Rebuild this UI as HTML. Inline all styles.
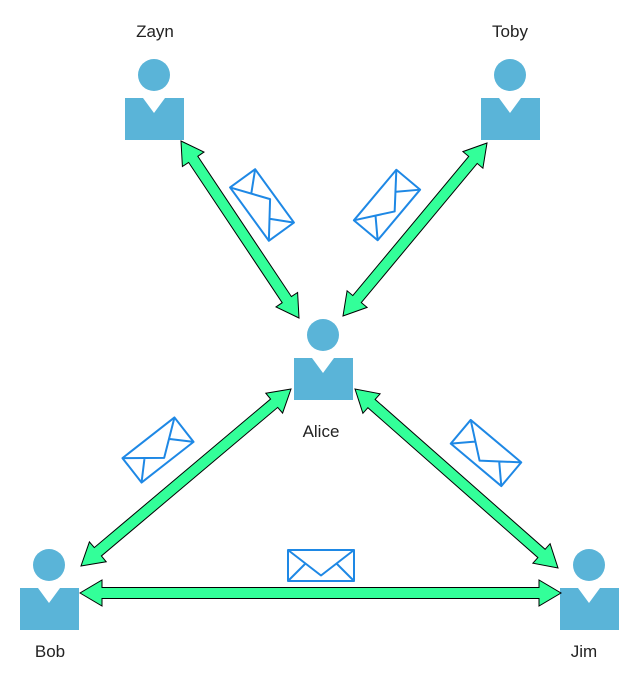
<!DOCTYPE html>
<html><head><style>
body{margin:0;background:#fff;}
svg{display:block;}
text{font-family:"Liberation Sans",sans-serif;font-size:17px;fill:#222;text-anchor:middle;}
</style></head><body>
<svg id="s" width="641" height="681" viewBox="0 0 641 681" xmlns="http://www.w3.org/2000/svg">
<defs>
<g id="p">
<circle cx="29" cy="-23" r="16" fill="#5AB4D8"/>
<path d="M0 0H18L29 15L40 0H59V42H0Z" fill="#5AB4D8"/>
</g>
<g id="e" fill="#fff" stroke="#1E88E5" stroke-width="2" stroke-linejoin="round">
<rect x="-33" y="-15.5" width="66" height="31"/>
<path d="M-33 -15.5L0 10L33 -15.5M-33 15.5L-16 -1.5M33 15.5L16 -1.5" fill="none"/>
</g>
</defs>
<use href="#p" x="125" y="98"/>
<use href="#p" x="481" y="98"/>
<use href="#p" x="294" y="358"/>
<use href="#p" x="20" y="588"/>
<use href="#p" x="560" y="588"/>
<text x="155" y="37">Zayn</text>
<text x="510" y="37">Toby</text>
<text x="321" y="437">Alice</text>
<text x="50" y="657">Bob</text>
<text x="584" y="657">Jim</text>
<g id="arrows"></g>
<use href="#e" transform="translate(262,205) rotate(-126)"/>
<use href="#e" transform="translate(387,205) rotate(-50)"/>
<use href="#e" transform="translate(158,450) rotate(-38)"/>
<use href="#e" transform="translate(486,453) rotate(40)"/>
<use href="#e" transform="translate(321,565.5)"/>
</svg>
<script>
function arr(x1,y1,x2,y2){
 var dx=x2-x1,dy=y2-y1,L=Math.hypot(dx,dy),ux=dx/L,uy=dy/L,nx=-uy,ny=ux;
 var w=5.5,hw=13,hl=22;
 function P(a,b){return (x1+ux*a+nx*b).toFixed(1)+','+(y1+uy*a+ny*b).toFixed(1);}
 var pts=[P(0,0),P(hl,hw),P(hl,w),P(L-hl,w),P(L-hl,hw),P(L,0),P(L-hl,-hw),P(L-hl,-w),P(hl,-w),P(hl,-hw)];
 var g=document.getElementById('arrows');
 var p=document.createElementNS('http://www.w3.org/2000/svg','polygon');
 p.setAttribute('points',pts.join(' '));p.setAttribute('fill','#33FF99');p.setAttribute('stroke','#000');p.setAttribute('stroke-width','1');
 g.appendChild(p);
}
arr(181,141,299,318);
arr(487,143,343,316);
arr(291,389,81,566);
arr(355,389,558,568);
arr(80,593,561,593);
</script>
</body></html>
